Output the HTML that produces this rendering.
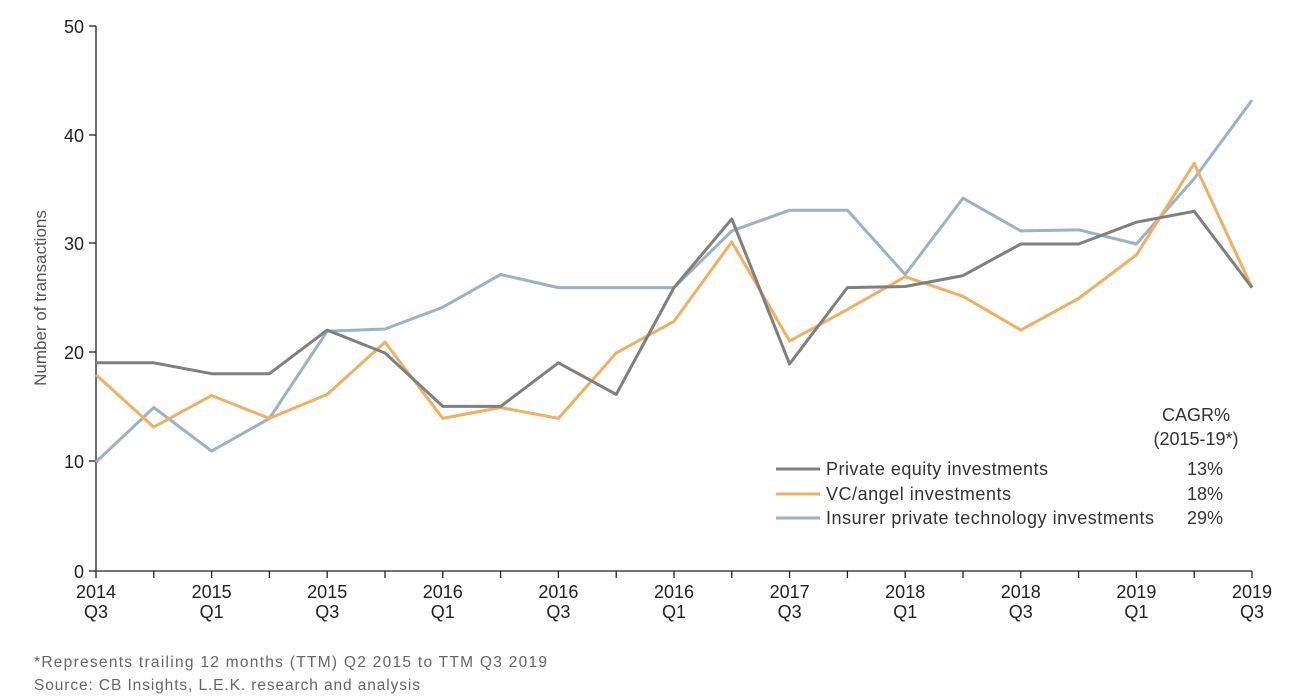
<!DOCTYPE html>
<html><head><style>
body{margin:0;background:#fff;}
svg{display:block;font-family:"Liberation Sans",sans-serif;}
</style></head><body>
<svg width="1300" height="699" viewBox="0 0 1300 699">
<g stroke="#222" stroke-width="1.3" fill="none">
<line x1="96" y1="26" x2="96" y2="571"/>
<line x1="96" y1="571" x2="1252" y2="571"/>
<line x1="89" y1="26" x2="96" y2="26"/>
<line x1="89" y1="135" x2="96" y2="135"/>
<line x1="89" y1="243" x2="96" y2="243"/>
<line x1="89" y1="352" x2="96" y2="352"/>
<line x1="89" y1="461" x2="96" y2="461"/>
<line x1="89" y1="571" x2="96" y2="571"/>
</g>
<g id="ticks" stroke="#222" stroke-width="1.3"></g>
<g font-size="18" fill="#222" text-anchor="end">
<text x="84" y="33">50</text><text x="84" y="142">40</text><text x="84" y="250">30</text>
<text x="84" y="359">20</text><text x="84" y="468">10</text><text x="84" y="578">0</text>
</g>
<text transform="translate(46,298) rotate(-90)" font-size="17" fill="#555" text-anchor="middle">Number of transactions</text>
<g id="xl" font-size="18" fill="#222" text-anchor="middle"></g>
<g id="lines" fill="none" stroke-width="3" stroke-linejoin="round"></g>
<text x="1196" y="421" font-size="18" fill="#333" text-anchor="middle">CAGR%</text>
<text x="1196" y="445" font-size="18" fill="#333" text-anchor="middle">(2015-19*)</text>
<g font-size="18" fill="#333">
<line x1="776" y1="469" x2="820" y2="469" stroke="#7f7f7f" stroke-width="3"/>
<line x1="776" y1="494" x2="820" y2="494" stroke="#f0b060" stroke-width="3"/>
<line x1="776" y1="518" x2="820" y2="518" stroke="#9ab3c2" stroke-width="3"/>
<text x="826" y="475" textLength="222">Private equity investments</text>
<text x="826" y="500" textLength="185">VC/angel investments</text>
<text x="826" y="524" textLength="328">Insurer private technology investments</text>
<text x="1223" y="475" text-anchor="end">13%</text>
<text x="1223" y="500" text-anchor="end">18%</text>
<text x="1223" y="524" text-anchor="end">29%</text>
</g>
<g font-size="15.5" fill="#666">
<text x="34" y="667" textLength="513">*Represents trailing 12 months (TTM) Q2 2015 to TTM Q3 2019</text>
<text x="34" y="690" textLength="386">Source: CB Insights, L.E.K. research and analysis</text>
</g>
</svg>
<script>
const X=i=>96+i*57.8, Y=v=>571-v*10.9;
const ns="http://www.w3.org/2000/svg";
const t=document.getElementById('ticks');
for(let i=0;i<=20;i++){const l=document.createElementNS(ns,'line');l.setAttribute('x1',X(i));l.setAttribute('x2',X(i));l.setAttribute('y1',571);l.setAttribute('y2',578);t.appendChild(l);}
const labs=[["2014","Q3"],["2015","Q1"],["2015","Q3"],["2016","Q1"],["2016","Q3"],["2016","Q1"],["2017","Q3"],["2018","Q1"],["2018","Q3"],["2019","Q1"],["2019","Q3"]];
const xl=document.getElementById('xl');
labs.forEach((p,k)=>{[0,1].forEach(j=>{const e=document.createElementNS(ns,'text');e.setAttribute('x',X(k*2));e.setAttribute('y',598+j*20);e.textContent=p[j];xl.appendChild(e);});});
const S=[["#9ab3c2",[10,15,11,14,22,22.2,24.2,27.2,26,26,26,31.2,33.1,33.1,27.2,34.2,31.2,31.3,30,36,43.2]],
["#f0b060",[18,13.2,16.1,14,16.2,21,14,15,14,20,22.9,30.2,21.1,24,27,25.2,22.1,25,29,37.4,26]],
["#7f7f7f",[19.1,19.1,18.1,18.1,22.1,20,15.1,15.1,19.1,16.2,26,32.3,19,26,26.1,27.1,30,30,32,33,26]]];
const g=document.getElementById('lines');
S.forEach(([c,d])=>{const p=document.createElementNS(ns,'polyline');p.setAttribute('stroke',c);p.setAttribute('points',d.map((v,i)=>X(i)+','+Y(v)).join(' '));g.appendChild(p);});
</script>
</body></html>
